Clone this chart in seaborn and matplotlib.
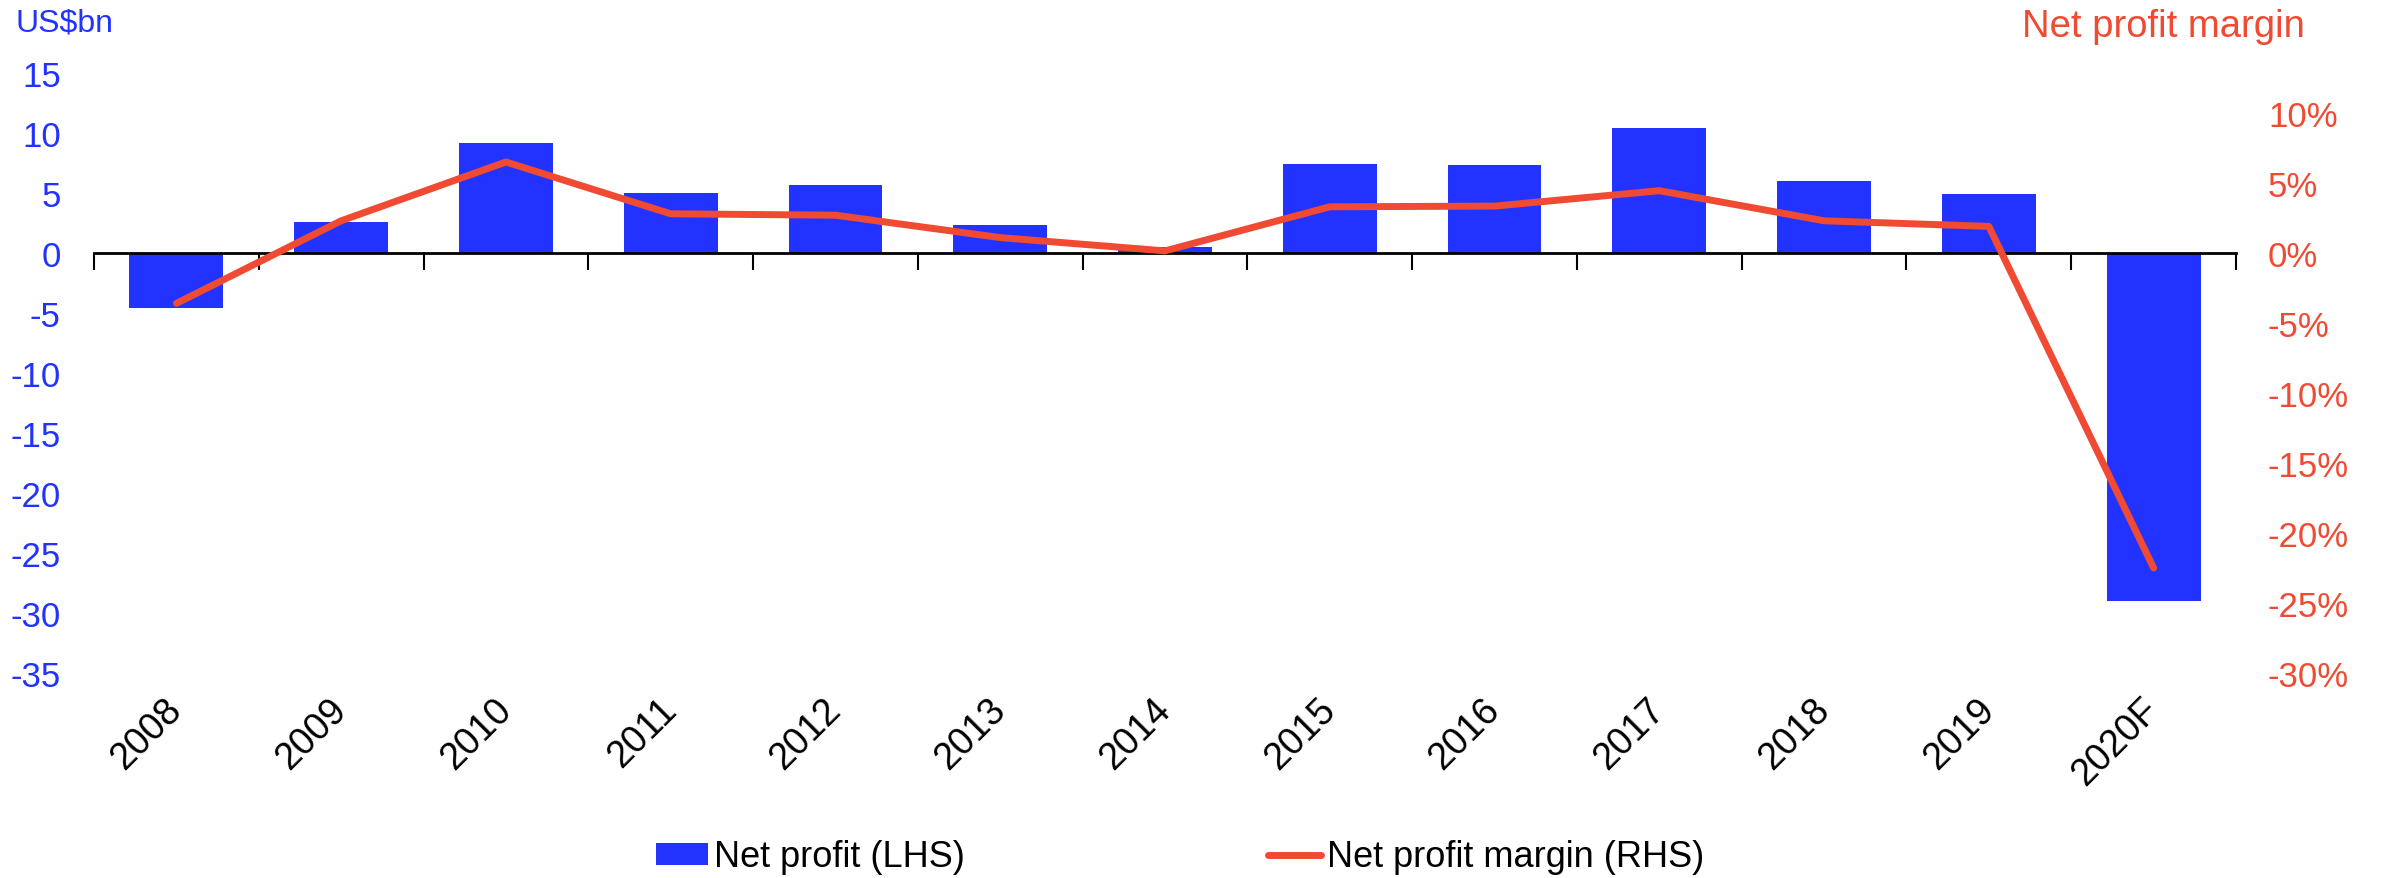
import matplotlib
matplotlib.use('Agg')
import matplotlib.pyplot as plt
import seaborn as sns
import pandas as pd
from matplotlib.patches import Patch
from matplotlib.lines import Line2D
from matplotlib.ticker import FuncFormatter

years = ['2008', '2009', '2010', '2011', '2012', '2013', '2014',
         '2015', '2016', '2017', '2018', '2019', '2020F']
net_profit = [-4.6, 2.6, 9.2, 5.0, 5.7, 2.3, 0.5, 7.4, 7.3, 10.4, 6.0, 4.9, -29.0]
margin = [-3.6, 2.3, 6.5, 2.8, 2.7, 1.1, 0.15, 3.3, 3.35, 4.45, 2.3, 1.9, -22.5]

blue = '#2233FF'
red = '#F04A33'

sns.set_theme(style='white')
plt.rcParams['font.family'] = ['Liberation Sans', 'DejaVu Sans']
plt.rcParams['axes.unicode_minus'] = False
plt.rcParams['text.color'] = 'black'
plt.rcParams['xtick.color'] = 'black'
plt.rcParams['ytick.color'] = 'black'

df = pd.DataFrame({'Year': years, 'Net profit': net_profit, 'Margin': margin})
df['pos'] = range(len(df))

W, H = 2384, 879
fig = plt.figure(figsize=(W / 100, H / 100), dpi=100)
ax = fig.add_axes([94 / W, 1 - 674 / H, (2236 - 94) / W, 600 / H])

# bars for net profit (left axis)
sns.barplot(data=df, x='Year', y='Net profit', color=blue, saturation=1,
            width=0.57, linewidth=0, ax=ax)
ax.set_xlim(-0.5, len(years) - 0.5)
ax.set_ylim(-35, 15)
ax.set_yticks(range(-35, 16, 5))
ax.set_xlabel('')
ax.set_ylabel('')
ax.tick_params(axis='y', length=0, labelsize=25, labelcolor=blue, pad=24)
ax.tick_params(axis='x', length=0, labelsize=27, labelcolor='black', pad=22)
for lab in ax.get_xticklabels():
    lab.set_rotation(45)
    lab.set_ha('right')
    lab.set_va('center')
    lab.set_rotation_mode('anchor')
for s in ax.spines.values():
    s.set_visible(False)

# zero line with category tick marks
zero = ax.secondary_xaxis(35 / 50)
zero.set_alignment('bottom')
zero.set_xticks([i - 0.5 for i in range(len(years) + 1)])
zero.set_xticklabels([])
zero.tick_params(axis='x', direction='out', length=12, width=1.5, color='black')
zero.spines['bottom'].set_linewidth(2)
zero.spines['bottom'].set_color('black')
zero.set_zorder(5)

# margin line (right axis)
ax2 = ax.twinx()
sns.lineplot(data=df, x='pos', y='Margin', color=red, linewidth=5,
             solid_capstyle='round', ax=ax2)
ax2.set_ylim(-30, 30 * 15 / 35)
ax2.set_yticks(range(-30, 11, 5))
ax2.yaxis.set_major_formatter(FuncFormatter(lambda v, p: f'{v:.0f}%'))
ax2.tick_params(axis='y', length=0, labelsize=25, labelcolor=red, pad=23)
ax2.set_ylabel('')
for s in ax2.spines.values():
    s.set_visible(False)

fig.text(15 / W, 1 - 8 / H, 'US$bn', color=blue, fontsize=23, ha='left', va='top')
fig.text(2022 / W, 1 - 9 / H, 'Net profit margin', color=red, fontsize=27.5,
         ha='left', va='top')

handles = [Patch(color=blue, linewidth=0),
           Line2D([], [], color=red, linewidth=5, solid_capstyle='round')]
fig.legend(handles, ['Net profit (LHS)', 'Net profit margin (RHS)'],
           loc='center', bbox_to_anchor=(1180 / W, 1 - 858 / H), ncol=2,
           frameon=False, fontsize=26, handlelength=1.45, handletextpad=0.17,
           columnspacing=8.4, handleheight=0.55, labelcolor='black')

fig.savefig('out.png', dpi=100)
